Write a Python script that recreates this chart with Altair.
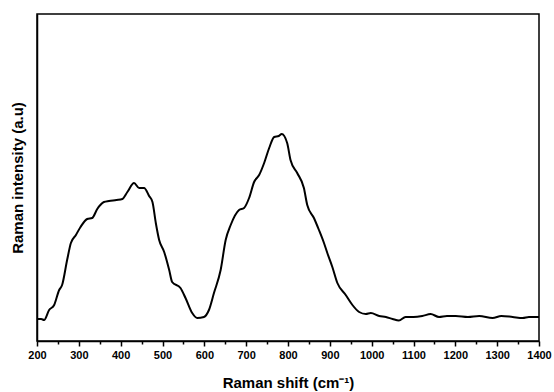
import altair as alt
import pandas as pd

wavenumber = [200, 210, 217, 229, 241, 253, 260, 272, 281, 293, 304, 320, 332, 344, 360, 372,
              390, 404, 416, 432, 444, 456, 468, 476, 484, 492, 504, 516, 523, 543, 555, 571,
              583, 599, 611, 623, 639, 651, 663, 683, 695, 707, 719, 731, 743, 755, 767,
              778, 785, 798, 806, 822, 838, 846, 862, 874, 886, 894, 906, 918, 938, 954,
              970, 986, 998, 1018, 1034, 1050, 1065, 1081, 1100, 1121, 1141, 1161, 1180,
              1201, 1230, 1257, 1289, 1310, 1337, 1361, 1376, 1400]
intensity = [22, 22, 21, 31, 36, 51, 56, 81, 98, 106, 114, 122, 123, 132, 139, 140,
             141, 142, 149, 158, 153, 153, 145, 139, 118, 101, 89, 71, 59, 53, 43, 28,
             23, 24, 31, 48, 71, 101, 116, 131, 133, 143, 159, 166, 178, 193, 204,
             205, 207, 198, 181, 168, 153, 136, 123, 111, 98, 88, 74, 58, 46, 36,
             29, 27, 28, 25, 24, 22, 20.5, 24, 24, 25, 27, 24, 25,
             25, 24, 25, 23, 25, 24, 23, 24, 24]

df = pd.DataFrame({"wn": wavenumber, "I": intensity})

major_minor = list(range(200, 1401, 50))

FONT = "Liberation Sans"

chart = alt.Chart(df).mark_line(color="black", strokeWidth=2, interpolate="monotone").encode(
    x=alt.X("wn:Q",
            scale=alt.Scale(domain=[200, 1400], nice=False, zero=False),
            axis=alt.Axis(values=major_minor, format="d",
                          labelExpr="datum.value % 100 == 0 ? datum.label : ''",
                          tickSize={"condition": {"test": "datum.value % 100 == 0", "value": 5}, "value": 3},
                          title="Raman shift (cm⁻¹)",
                          grid=False, labelFlush=False, labelOverlap=False,
                          labelFont=FONT, labelFontSize=11, labelFontWeight="bold",
                          labelPadding=3, titlePadding=15)),
    y=alt.Y("I:Q",
            scale=alt.Scale(domain=[0, 327], nice=False),
            axis=alt.Axis(ticks=False, labels=False, grid=False,
                          title="Raman intensity (a.u)", titlePadding=12)),
).properties(
    width=502, height=327,
    autosize=alt.AutoSizeParams(type="none"),
    padding={"left": 37, "top": 14, "right": 15, "bottom": 51},
).configure_view(
    stroke="black", strokeWidth=1.5
).configure_axis(
    domainColor="black", domainWidth=1.5, tickColor="black", tickWidth=1.5,
    labelColor="black",
    titleFont=FONT, titleFontSize=15, titleFontWeight="bold", titleColor="black",
)

chart.save("out.html", embed_options={"renderer": "svg", "actions": False})
